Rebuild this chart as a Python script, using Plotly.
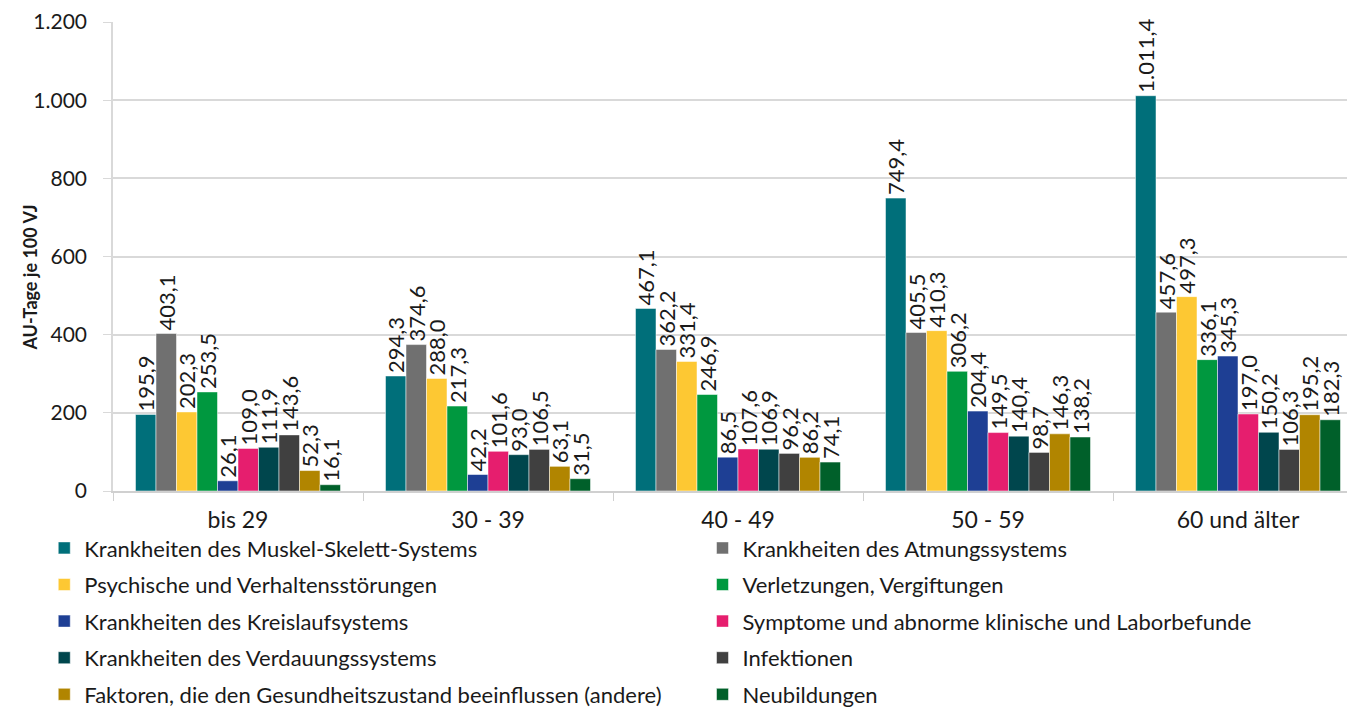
import plotly.graph_objects as go

age_groups = ['bis 29', '30 - 39', '40 - 49', '50 - 59', '60 und älter']

diagnoses = [
    'Krankheiten des Muskel-Skelett-Systems',
    'Krankheiten des Atmungssystems',
    'Psychische und Verhaltensstörungen',
    'Verletzungen, Vergiftungen',
    'Krankheiten des Kreislaufsystems',
    'Symptome und abnorme klinische und Laborbefunde',
    'Krankheiten des Verdauungssystems',
    'Infektionen',
    'Faktoren, die den Gesundheitszustand beeinflussen (andere)',
    'Neubildungen',
]

muskel = [195.9, 294.3, 467.1, 749.4, 1011.4]
atmung = [403.1, 374.6, 362.2, 405.5, 457.6]
psyche = [202.3, 288.0, 331.4, 410.3, 497.3]
verletzung = [253.5, 217.3, 246.9, 306.2, 336.1]
kreislauf = [26.1, 42.2, 86.5, 204.4, 345.3]
symptome = [109.0, 101.6, 107.6, 149.5, 197.0]
verdauung = [111.9, 93.0, 106.9, 140.4, 150.2]
infektionen = [143.6, 106.5, 96.2, 98.7, 106.3]
faktoren = [52.3, 63.1, 86.2, 146.3, 195.2]
neubildungen = [16.1, 31.5, 74.1, 138.2, 182.3]

series = [muskel, atmung, psyche, verletzung, kreislauf,
          symptome, verdauung, infektionen, faktoren, neubildungen]

colors = ['#006F7A', '#707070', '#FDC833', '#00983F', '#1E3F94',
          '#E61E6E', '#00464D', '#404040', '#B18500', '#00602A']

font_family = 'Lato, Liberation Sans, sans-serif'

fig = go.Figure()
for i, (name, vals, col) in enumerate(zip(diagnoses, series, colors)):
    # legend in two columns: even entries left, odd entries right
    fig.add_trace(go.Bar(
        x=age_groups, y=vals, name=name,
        legend='legend' if i % 2 == 0 else 'legend2',
        legendgroup=f'g{i}',
        marker=dict(color=col, line=dict(color='white', width=0.5)),
        texttemplate='%{y:,.1f}', textposition='outside',
        textangle=-90, constraintext='none', cliponaxis=False,
        textfont=dict(size=22, color='#1a1a1a'),
    ))

legend_style = dict(
    orientation='v', xanchor='left', yanchor='top', y=-0.077,
    font=dict(size=22, color='#1a1a1a'), tracegroupgap=5,
    itemwidth=30, bgcolor='rgba(0,0,0,0)',
)

# page body has an 8px margin, so the figure is offset by 8px in the screenshot
fig.update_layout(
    barmode='group',
    bargap=0.18,
    bargroupgap=0,
    separators=',.',
    width=1355, height=708,
    margin=dict(l=105, r=0, t=12, b=225),
    plot_bgcolor='white',
    paper_bgcolor='white',
    font=dict(family=font_family, size=21, color='#1a1a1a'),
    legend=dict(legend_style, x=-0.055),
    legend2=dict(legend_style, x=0.4716),
    xaxis=dict(
        showline=True, linecolor='#d0d0d0', linewidth=1.5,
        ticks='outside', tickson='boundaries', ticklen=8, tickcolor='#d0d0d0',
        ticklabelstandoff=8,
        tickfont=dict(size=23),
    ),
    yaxis=dict(
        range=[0, 1200], dtick=200, tickformat=',.0f',
        showgrid=True, gridcolor='#d9d9d9', gridwidth=1.5,
        showline=True, linecolor='#d9d9d9', linewidth=1.5,
        ticks='outside', ticklen=8, tickcolor='#d9d9d9',
        ticklabelstandoff=12, ticklabeloverflow='allow',
        zeroline=False,
        tickfont=dict(size=21),
    ),
    annotations=[dict(
        text='<b>AU-Tage je 100 VJ</b>', textangle=-90,
        xref='paper', yref='paper', x=-0.066, y=0.454,
        xanchor='center', yanchor='middle',
        showarrow=False, font=dict(size=18, color='#1a1a1a', family=font_family),
    )],
)

fig.write_html('out.html')
